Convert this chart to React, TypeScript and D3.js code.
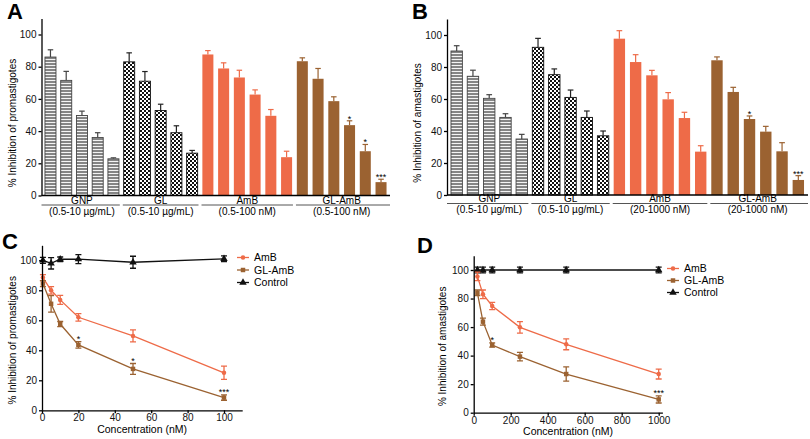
import React, { useEffect, useRef } from "react";
import * as d3 from "d3";

const ORANGE = "#ee6b48";
const BROWN = "#9b6231";
const FONT = "'Liberation Sans', Arial, sans-serif";

// ---- bar panels (A: promastigotes, B: amastigotes)
const barGroups = ["GNP", "GL", "AmB", "GL-AmB"];
const rangesA = ["(0.5-10 µg/mL)", "(0.5-10 µg/mL)", "(0.5-100 nM)", "(0.5-100 nM)"];
const rangesB = ["(0.5-10 µg/mL)", "(0.5-10 µg/mL)", "(20-1000 nM)", "(20-1000 nM)"];

const gnpA = [86, 71.5, 49.7, 36, 22.8];
const gnpAErr = [4.5, 5.6, 2.7, 3, 0.6];
const glA = [83, 71, 52.8, 39, 26.3];
const glAErr = [5.6, 6, 3.9, 4.3, 1.7];
const ambA = [87.6, 78.9, 73.3, 62.7, 49.5, 23.8];
const ambAErr = [2.4, 3.5, 4.5, 2.9, 3.9, 3.7];
const glambA = [83.4, 72.5, 58.6, 43.7, 27.5, 8.3];
const glambAErr = [2.1, 6.4, 2.7, 2.7, 4.2, 1.8];
const glambAStars = ["", "", "", "*", "*", "***"];

const gnpB = [90, 74.2, 60.4, 48.5, 35];
const gnpBErr = [3.3, 3.8, 2.3, 2.3, 2.9];
const glB = [92.3, 75.2, 61, 48.5, 37];
const glBErr = [5.6, 3.6, 4.6, 4, 3];
const ambB = [97.7, 83.1, 74.8, 59.8, 48.1, 27.1];
const ambBErr = [5, 4.6, 3.1, 4.2, 3.6, 3.7];
const glambB = [84.2, 64.4, 47.5, 39.6, 27.3, 9.4];
const glambBErr = [2.1, 2.9, 1.9, 3.3, 5.4, 2.7];
const glambBStars = ["", "", "*", "", "", "***"];

// ---- line panels (C, D)
const concC = [0.5, 5, 10, 20, 50, 100];
const ambC = [88.5, 80, 73.6, 62, 49.6, 25];
const ambCErr = [2, 2.5, 3, 2.5, 4, 4.4];
const glambC = [84.5, 71, 57.5, 43.6, 27.6, 8.5];
const glambCErr = [2, 5.5, 1.7, 2.2, 3.6, 1.8];
const ctrlC = [100, 98, 100.7, 100.8, 98.7, 101];
const ctrlCErr = [2, 3.8, 1.5, 3, 4, 1.9];
const glambCStars = ["", "", "", "*", "*", "***"];
const ticksC = [0, 20, 40, 60, 80, 100];

const concD = [20, 50, 100, 250, 500, 1000];
const ambD = [95.5, 83, 74.8, 59.8, 47.9, 27.1];
const ambDErr = [3, 3, 2.5, 4, 3.8, 3.5];
const glambD = [84, 63.8, 47.4, 39.3, 27.1, 9.3];
const glambDErr = [2, 2.5, 1.5, 3, 5, 2.5];
const ctrlD = [100, 100, 100, 100, 100, 100];
const ctrlDErr = [2, 2, 2, 2, 2, 2];
const glambDStars = ["", "", "*", "", "", "***"];
const ticksD = [0, 200, 400, 600, 800, 1000];

const yTicks = [0, 20, 40, 60, 80, 100];
const legendNames = ["AmB", "GL-AmB", "Control"];

function yAxis(g: any, y: any, x: number) {
    const ax = g.append("g")
        .attr("transform", `translate(${x},0)`)
        .call(d3.axisLeft(y).tickValues(yTicks).tickSize(3).tickSizeOuter(0).tickPadding(2));
    ax.selectAll("path, line").attr("stroke", "#000").attr("stroke-width", 1.3);
    ax.selectAll("text").style("font-family", FONT).style("font-size", "10px").attr("fill", "#111");
}

function drawBarPanel(root: any, o: any) {
    const g = root.append("g");
    const bars: any[] = [];
    o.series.forEach((s: any, gi: number) => {
        s.values.forEach((v: number, i: number) => {
            bars.push({ gi, v, e: s.errors[i], star: s.stars ? s.stars[i] : "", s });
        });
    });

    const x = d3.scaleBand<number>()
        .domain(d3.range(bars.length))
        .range([o.left, o.right])
        .paddingInner(0.3)
        .paddingOuter(o.outer);
    const y = d3.scaleLinear().domain([0, 110]).range([o.y0, o.y0 - 1.1 * (o.y0 - o.y100)]);
    const bw = x.bandwidth();
    const gap = x.step() - bw;

    // error bars (upper only)
    bars.forEach((d, i) => {
        const cx = x(i)! + bw / 2;
        g.append("line")
            .attr("x1", cx).attr("x2", cx)
            .attr("y1", y(d.v)).attr("y2", y(d.v + d.e))
            .attr("stroke", d.s.errColor).attr("stroke-width", 1.2);
        g.append("line")
            .attr("x1", cx - bw * 0.25).attr("x2", cx + bw * 0.25)
            .attr("y1", y(d.v + d.e)).attr("y2", y(d.v + d.e))
            .attr("stroke", d.s.errColor).attr("stroke-width", 1.2);
        if (d.star) {
            g.append("text")
                .attr("x", cx).attr("y", y(d.v + d.e) + 1)
                .attr("text-anchor", "middle")
                .style("font-family", FONT).style("font-size", "9px")
                .text(d.star);
        }
    });

    g.selectAll(".bar")
        .data(bars)
        .enter()
        .append("rect")
        .attr("x", (d: any, i: number) => x(i)!)
        .attr("y", (d: any) => y(d.v))
        .attr("width", bw)
        .attr("height", (d: any) => y(0) - y(d.v))
        .attr("fill", (d: any) => d.s.fill)
        .attr("stroke", (d: any) => d.s.stroke)
        .attr("stroke-width", (d: any) => (d.s.stroke === "none" ? 0 : 0.9));

    yAxis(g, y, o.left);
    g.append("line")
        .attr("x1", o.left).attr("x2", o.right)
        .attr("y1", y(0)).attr("y2", y(0))
        .attr("stroke", "#000").attr("stroke-width", 1.3);

    // group labels under the axis
    let start = 0;
    barGroups.forEach((name, gi) => {
        const n = o.series[gi].values.length;
        const first = start, last = start + n - 1;
        start += n;
        const lx1 = gi === 0 ? o.left : x(first)! - gap / 2 + 1.5;
        const lx2 = gi === barGroups.length - 1 ? o.right : x(last)! + bw + gap / 2 - 1.5;
        const cx = (x(first)! + x(last)! + bw) / 2;
        g.append("line")
            .attr("x1", lx1).attr("x2", lx2)
            .attr("y1", o.lineY).attr("y2", o.lineY)
            .attr("stroke", "#555").attr("stroke-width", 1);
        g.append("text")
            .attr("x", cx).attr("y", o.lineY - 1.5)
            .attr("text-anchor", "middle")
            .style("font-family", FONT).style("font-size", "10px")
            .text(name);
        g.append("text")
            .attr("x", cx).attr("y", o.lineY + 9.5)
            .attr("text-anchor", "middle")
            .style("font-family", FONT).style("font-size", "10px")
            .text(o.ranges[gi]);
    });

    g.append("text")
        .attr("transform", `translate(${o.ylabelX},${(y(0) + y(100)) / 2 + 8}) rotate(-90)`)
        .attr("text-anchor", "middle")
        .style("font-family", FONT).style("font-size", "10px")
        .text(o.ylabel);

    g.append("text")
        .attr("x", o.letterX).attr("y", o.letterY)
        .style("font-family", FONT).style("font-size", "22px").style("font-weight", "bold")
        .text(o.letter);
}

function marker(type: string, size: number) {
    const sym = type === "circle" ? d3.symbolCircle : type === "square" ? d3.symbolSquare : d3.symbolTriangle;
    return d3.symbol().type(sym).size(size)()!;
}

function drawLinePanel(root: any, o: any) {
    const g = root.append("g");
    const x = d3.scaleLinear().domain([0, o.xMax]).range([o.left, o.right]);
    const y = d3.scaleLinear().domain([0, 110]).range([o.y0, o.y0 - 1.1 * (o.y0 - o.y100)]);

    const line = d3.line<number>()
        .x((d: number, i: number) => x(o.conc[i]))
        .y((d: number) => y(d));

    o.series.forEach((s: any) => {
        g.append("path")
            .attr("d", line(s.values))
            .attr("fill", "none")
            .attr("stroke", s.color)
            .attr("stroke-width", 1.3);
        s.values.forEach((v: number, i: number) => {
            const cx = x(o.conc[i]);
            const e = s.errors[i];
            g.append("path")
                .attr("d", `M${cx},${y(v - e)}V${y(v + e)}M${cx - 3},${y(v - e)}H${cx + 3}M${cx - 3},${y(v + e)}H${cx + 3}`)
                .attr("stroke", s.color).attr("stroke-width", 1.3).attr("fill", "none");
            g.append("path")
                .attr("d", marker(s.marker, s.size))
                .attr("transform", `translate(${cx},${y(v)})`)
                .attr("fill", s.color);
            if (s.stars && s.stars[i]) {
                g.append("text")
                    .attr("x", cx).attr("y", y(v + e) + 0.5)
                    .attr("text-anchor", "middle")
                    .style("font-family", FONT).style("font-size", "9px")
                    .text(s.stars[i]);
            }
        });
    });

    yAxis(g, y, o.left);
    const xa = g.append("g")
        .attr("transform", `translate(0,${o.y0})`)
        .call(d3.axisBottom(x).tickValues(o.ticks).tickFormat(d3.format("d")).tickSize(3).tickSizeOuter(0).tickPadding(1));
    xa.selectAll("path, line").attr("stroke", "#000").attr("stroke-width", 1.3);
    xa.selectAll("text").style("font-family", FONT).style("font-size", "10px").attr("fill", "#111");

    g.append("text")
        .attr("x", (o.left + o.right) / 2).attr("y", o.y0 + o.titleGap)
        .attr("text-anchor", "middle")
        .style("font-family", FONT).style("font-size", "10.5px")
        .text("Concentration (nM)");

    g.append("text")
        .attr("transform", `translate(${o.ylabelX},${(y(0) + y(100)) / 2 + 5}) rotate(-90)`)
        .attr("text-anchor", "middle")
        .style("font-family", FONT).style("font-size", "10px")
        .text(o.ylabel);

    g.append("text")
        .attr("x", o.letterX).attr("y", o.letterY)
        .style("font-family", FONT).style("font-size", "22px").style("font-weight", "bold")
        .text(o.letter);

    // legend
    legendNames.forEach((name, i) => {
        const s = o.series.find((d: any) => d.name === name);
        const ly = o.legendY + i * o.legendStep;
        g.append("line")
            .attr("x1", o.legendX).attr("x2", o.legendX + 12)
            .attr("y1", ly).attr("y2", ly)
            .attr("stroke", s.color).attr("stroke-width", 1.3);
        g.append("path")
            .attr("d", marker(s.marker, s.size))
            .attr("transform", `translate(${o.legendX + 6},${ly})`)
            .attr("fill", s.color);
        g.append("text")
            .attr("x", o.legendX + 17).attr("y", ly)
            .attr("dy", "0.35em")
            .style("font-family", FONT).style("font-size", "10.5px")
            .text(name);
    });
}

export default function App() {
    const svgRef = useRef<SVGSVGElement>(null);

    useEffect(() => {
        const svg = d3.select(svgRef.current);
        svg.selectAll("*").remove();

        const defs = svg.append("defs");
        const hatch = defs.append("pattern")
            .attr("id", "hatch").attr("patternUnits", "userSpaceOnUse")
            .attr("width", 4).attr("height", 3);
        hatch.append("rect").attr("width", 4).attr("height", 3).attr("fill", "#858585");
        hatch.append("rect").attr("y", 2).attr("width", 4).attr("height", 1).attr("fill", "#f4f4f4");

        const checker = defs.append("pattern")
            .attr("id", "checker").attr("patternUnits", "userSpaceOnUse")
            .attr("width", 4).attr("height", 4);
        checker.append("rect").attr("width", 4).attr("height", 4).attr("fill", "#111");
        checker.append("rect").attr("width", 2).attr("height", 2).attr("fill", "#fff");
        checker.append("rect").attr("x", 2).attr("y", 2).attr("width", 2).attr("height", 2).attr("fill", "#fff");

        const gnpStyle = { fill: "url(#hatch)", stroke: "#444", errColor: "#444" };
        const glStyle = { fill: "url(#checker)", stroke: "#111", errColor: "#222" };
        const ambStyle = { fill: ORANGE, stroke: "none", errColor: ORANGE };
        const glambStyle = { fill: BROWN, stroke: "none", errColor: BROWN };

        drawBarPanel(svg, {
            left: 41.5, right: 390, outer: 0.22, y0: 195.5, y100: 34.5, lineY: 205,
            ranges: rangesA,
            series: [
                { values: gnpA, errors: gnpAErr, ...gnpStyle },
                { values: glA, errors: glAErr, ...glStyle },
                { values: ambA, errors: ambAErr, ...ambStyle },
                { values: glambA, errors: glambAErr, stars: glambAStars, ...glambStyle },
            ],
            ylabel: "% Inhibition of promastigotes", ylabelX: 16,
            letter: "A", letterX: 7, letterY: 19,
        });

        drawBarPanel(svg, {
            left: 447, right: 808, outer: 0.245, y0: 195, y100: 35, lineY: 203.5,
            ranges: rangesB,
            series: [
                { values: gnpB, errors: gnpBErr, ...gnpStyle },
                { values: glB, errors: glBErr, ...glStyle },
                { values: ambB, errors: ambBErr, ...ambStyle },
                { values: glambB, errors: glambBErr, stars: glambBStars, ...glambStyle },
            ],
            ylabel: "% Inhibition of amastigotes", ylabelX: 421,
            letter: "B", letterX: 412, letterY: 19,
        });

        drawLinePanel(svg, {
            xMax: 110, left: 42, right: 242.2, y0: 410.3, y100: 260.3, titleGap: 22.5,
            conc: concC, ticks: ticksC,
            series: [
                { name: "Control", values: ctrlC, errors: ctrlCErr, color: "#111", marker: "triangle", size: 24 },
                { name: "AmB", values: ambC, errors: ambCErr, color: ORANGE, marker: "circle", size: 16 },
                { name: "GL-AmB", values: glambC, errors: glambCErr, stars: glambCStars, color: BROWN, marker: "square", size: 20 },
            ],
            ylabel: "% Inhibition of promastigotes", ylabelX: 16,
            letter: "C", letterX: 2, letterY: 249,
            legendX: 237, legendY: 257.5, legendStep: 12.5,
        });

        drawLinePanel(svg, {
            xMax: 1020, left: 473.7, right: 662.4, y0: 412.7, y100: 270, titleGap: 22.5,
            conc: concD, ticks: ticksD,
            series: [
                { name: "Control", values: ctrlD, errors: ctrlDErr, color: "#111", marker: "triangle", size: 24 },
                { name: "AmB", values: ambD, errors: ambDErr, color: ORANGE, marker: "circle", size: 16 },
                { name: "GL-AmB", values: glambD, errors: glambDErr, stars: glambDStars, color: BROWN, marker: "square", size: 20 },
            ],
            ylabel: "% Inhibition of amastigotes", ylabelX: 446,
            letter: "D", letterX: 417, letterY: 253,
            legendX: 667, legendY: 268.5, legendStep: 12,
        });
    }, []);

    return (
        <svg
            ref={svgRef}
            width={810}
            height={439}
            style={{ position: "absolute", left: 0, top: 0, background: "#fff" }}
        />
    );
}
